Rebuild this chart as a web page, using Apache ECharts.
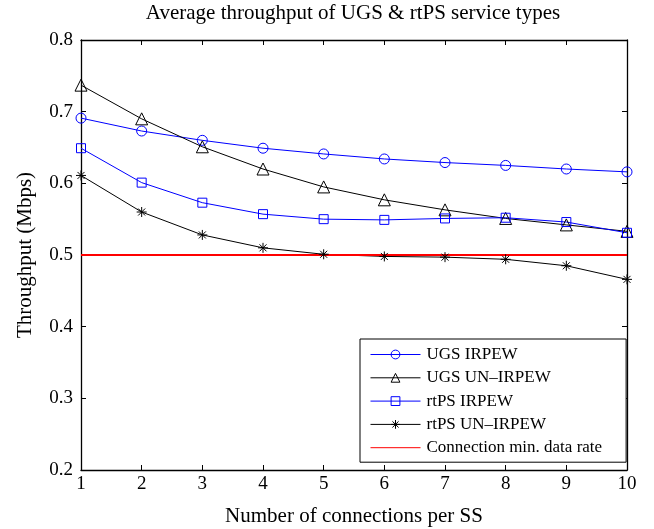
<!DOCTYPE html>
<html>
<head>
<meta charset="utf-8">
<script src="https://cdn.jsdelivr.net/npm/echarts@6/dist/echarts.min.js"></script>
<style>
  html, body { margin: 0; padding: 0; background: #fff; }
  #chart { width: 654px; height: 529px; }
</style>
</head>
<body>
<div id="chart"></div>
<script>
// number of connections per SS
var connections = [1, 2, 3, 4, 5, 6, 7, 8, 9, 10];
var ugsIrpew = [0.691, 0.673, 0.660, 0.649, 0.641, 0.634, 0.629, 0.625, 0.620, 0.616];
var ugsUnIrpew = [0.737, 0.690, 0.651, 0.620, 0.595, 0.577, 0.563, 0.551, 0.542, 0.533];
var rtpsIrpew = [0.649, 0.601, 0.573, 0.557, 0.550, 0.549, 0.551, 0.552, 0.546, 0.531];
var rtpsUnIrpew = [0.611, 0.560, 0.528, 0.510, 0.501, 0.498, 0.497, 0.494, 0.485, 0.466];
var minRate = 0.5;

var font = '"Liberation Serif", "Times New Roman", serif';
var star = 'path://M5,0L5,10M0,5L10,5M1.5,1.5L8.5,8.5M1.5,8.5L8.5,1.5';

function pairs(ys) {
  return connections.map(function (x, i) { return [x, ys[i]]; });
}

function lineSeries(name, ys, color, symbol, size) {
  return {
    name: name,
    type: 'line',
    data: pairs(ys),
    symbol: symbol,
    symbolSize: size,
    showSymbol: true,
    lineStyle: { color: color, width: 1 },
    itemStyle: { color: 'none', borderColor: color, borderWidth: 1 },
    emphasis: { disabled: true },
    animation: false
  };
}

var chart = echarts.init(document.getElementById('chart'));
var axisCommon = {
  axisLine: { show: true, lineStyle: { color: '#000', width: 1.3 } },
  axisTick: { show: true, inside: true, length: 5, lineStyle: { color: '#000' } },
  splitLine: { show: false }
};

chart.setOption({
  backgroundColor: '#fff',
  title: {
    text: 'Average throughput of UGS & rtPS service types',
    left: 353, top: 3, textAlign: 'center', padding: 0,
    textStyle: { fontFamily: font, fontSize: 21, fontWeight: 'normal', color: '#000' }
  },
  grid: { left: 81, right: 27, top: 40, bottom: 59, outerBoundsMode: 'none', containLabel: false },
  legend: {
    orient: 'vertical',
    left: 360, top: 339,
    padding: [7, 24, 6, 10],
    itemWidth: 50, itemHeight: 11, itemGap: 6.3,
    borderColor: '#000', borderWidth: 1, backgroundColor: '#fff',
    textStyle: { fontFamily: font, fontSize: 17, color: '#000', padding: [0, 0, 0, 1] },
    data: [
      { name: 'UGS IRPEW', lineStyle: { width: 1 }, itemStyle: { borderWidth: 1 } },
      { name: 'UGS UN\u2013IRPEW', lineStyle: { width: 1 }, itemStyle: { borderWidth: 1 } },
      { name: 'rtPS IRPEW', lineStyle: { width: 1 }, itemStyle: { borderWidth: 1 } },
      { name: 'rtPS UN\u2013IRPEW', lineStyle: { width: 1 }, itemStyle: { borderWidth: 1 } },
      { name: 'Connection min. data rate', lineStyle: { width: 1 },
        itemStyle: { color: 'none', borderWidth: 0, opacity: 0 } }
    ]
  },
  xAxis: [
    Object.assign({
      type: 'value', min: 1, max: 10, interval: 1,
      name: 'Number of connections per SS', nameLocation: 'middle', nameGap: 36,
      nameTextStyle: { fontFamily: font, fontSize: 21, color: '#000' },
      axisLabel: { fontFamily: font, fontSize: 19, color: '#000', margin: 5 }
    }, axisCommon),
    Object.assign({
      type: 'value', min: 1, max: 10, interval: 1, position: 'top',
      axisLabel: { show: false }
    }, axisCommon)
  ],
  yAxis: [
    Object.assign({
      type: 'value', min: 0.2, max: 0.8, interval: 0.1,
      name: 'Throughput (Mbps)', nameLocation: 'middle', nameGap: 45, nameRotate: 90,
      nameTextStyle: { fontFamily: font, fontSize: 21, color: '#000' },
      axisLabel: { fontFamily: font, fontSize: 19, color: '#000', margin: 8,
        formatter: function (v) { return v.toFixed(1); } }
    }, axisCommon),
    Object.assign({
      type: 'value', min: 0.2, max: 0.8, interval: 0.1, position: 'right',
      axisLabel: { show: false }
    }, axisCommon)
  ],
  series: [
    lineSeries('UGS IRPEW', ugsIrpew, '#0000ff', 'circle', 10),
    lineSeries('UGS UN\u2013IRPEW', ugsUnIrpew, '#000000', 'triangle', 12),
    lineSeries('rtPS IRPEW', rtpsIrpew, '#0000ff', 'rect', 9),
    lineSeries('rtPS UN\u2013IRPEW', rtpsUnIrpew, '#000000', star, 10),
    {
      name: 'Connection min. data rate',
      type: 'line',
      data: pairs(connections.map(function () { return minRate; })),
      symbol: 'none',
      lineStyle: { color: '#ff0000', width: 2 },
      itemStyle: { color: '#ff0000' },
      emphasis: { disabled: true },
      animation: false
    }
  ]
});
</script>
</body>
</html>
